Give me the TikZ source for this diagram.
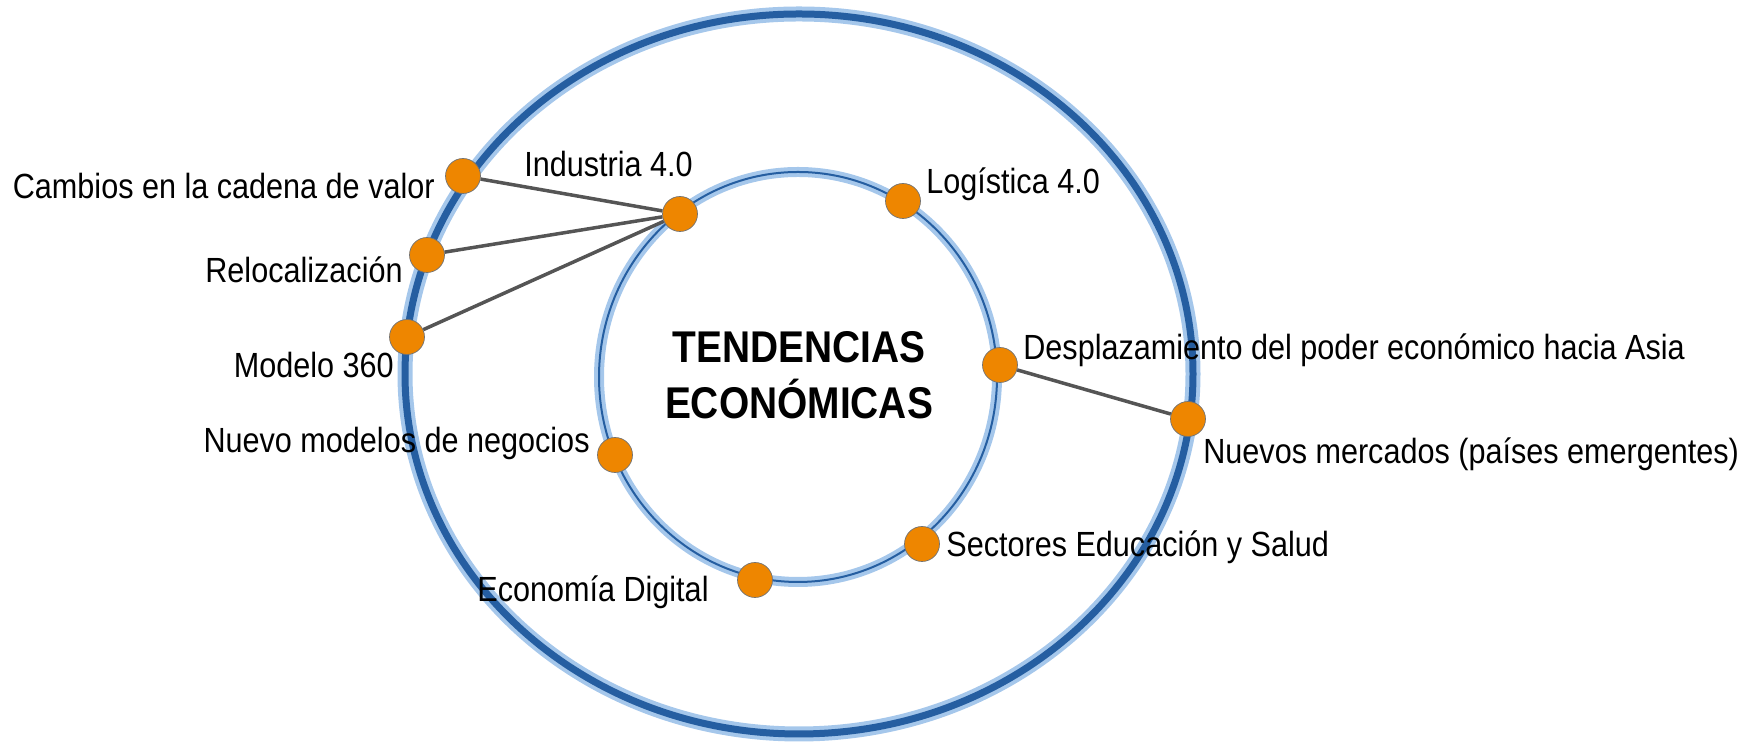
\documentclass[tikz,border=0pt]{standalone}
\usepackage[RGB]{xcolor}
\usepackage{fontspec}
\setmainfont{Liberation Sans}[FakeStretch=0.875]
\usepackage{tikz}
\definecolor{ringlight}{RGB}{165,199,235}
\definecolor{ringdark}{RGB}{37,94,161}
\definecolor{dotfill}{RGB}{238,134,0}
\definecolor{linkgray}{RGB}{85,85,85}
% #1 centre, #2 x radius, #3 y radius, #4 band width, #5 line width
\newcommand{\drawring}[5]{
    \draw[ringlight, line width=#4] #1 ellipse ({#2} and {#3});
    \draw[ringdark, line width=#5] #1 ellipse ({#2} and {#3});
}
\tikzset{
    dot/.style={circle, fill=dotfill, draw=black!55, line width=0.4pt, inner sep=0pt, minimum size=0.7cm},
    lbl/.style={font=\fontsize{19.9}{24}\selectfont, inner sep=0pt},
    title/.style={font=\bfseries\fontsize{25.3}{30}\selectfont, inner sep=0pt, anchor=base},
    link/.style={linkgray, line width=0.07cm}
}

\begin{document}
\begin{tikzpicture}[x=0.02cm, y=0.02cm]
\useasboundingbox (0,0) rectangle (1749,742);
\drawring{(799,368)}{394}{360}{0.3cm}{0.14cm}
\drawring{(798,365)}{199}{205}{0.2cm}{0.04cm}

\node[title] (tend) at (799,379) {TENDENCIAS};
\node[title] (econ) at (799,323) {ECONÓMICAS};

% outer ring
\node[dot] (cambios) at (463,566) {};
\node[dot] (reloc) at (427,487) {};
\node[dot] (modelo) at (407,405) {};
\node[dot] (mercados) at (1188,323) {};
% inner ring
\node[dot] (industria) at (680,528) {};
\node[dot] (logistica) at (903,541) {};
\node[dot] (desplaz) at (1000,377) {};
\node[dot] (negocios) at (615,287) {};
\node[dot] (sectores) at (922,198) {};
\node[dot] (digital) at (755,162) {};

\draw[link] (industria) -- (cambios);
\draw[link] (industria) -- (reloc);
\draw[link] (industria) -- (modelo);
\draw[link] (desplaz) -- (mercados);

\node[lbl, anchor=base east] (tcambios) at (435,543) {Cambios en la cadena de valor};
\node[lbl, anchor=base west] (tindustria) at (524,565) {Industria 4.0};
\node[lbl, anchor=base east] (treloc) at (403,459) {Relocalización};
\node[lbl, anchor=base east] (tmodelo) at (394,364) {Modelo 360};
\node[lbl, anchor=base west] (tlogistica) at (926,548) {Logística 4.0};
\node[lbl, anchor=base west] (tdesplaz) at (1023,382) {Desplazamiento del poder económico hacia Asia};
\node[lbl, anchor=base west] (tmercados) at (1203,278) {Nuevos mercados (países emergentes)};
\node[lbl, anchor=base east] (tnegocios) at (590,289) {Nuevo modelos de negocios};
\node[lbl, anchor=base west] (tsectores) at (946,185) {Sectores Educación y Salud};
\node[lbl, anchor=base west] (tdigital) at (477,140) {Economía Digital};
\end{tikzpicture}
\end{document}
